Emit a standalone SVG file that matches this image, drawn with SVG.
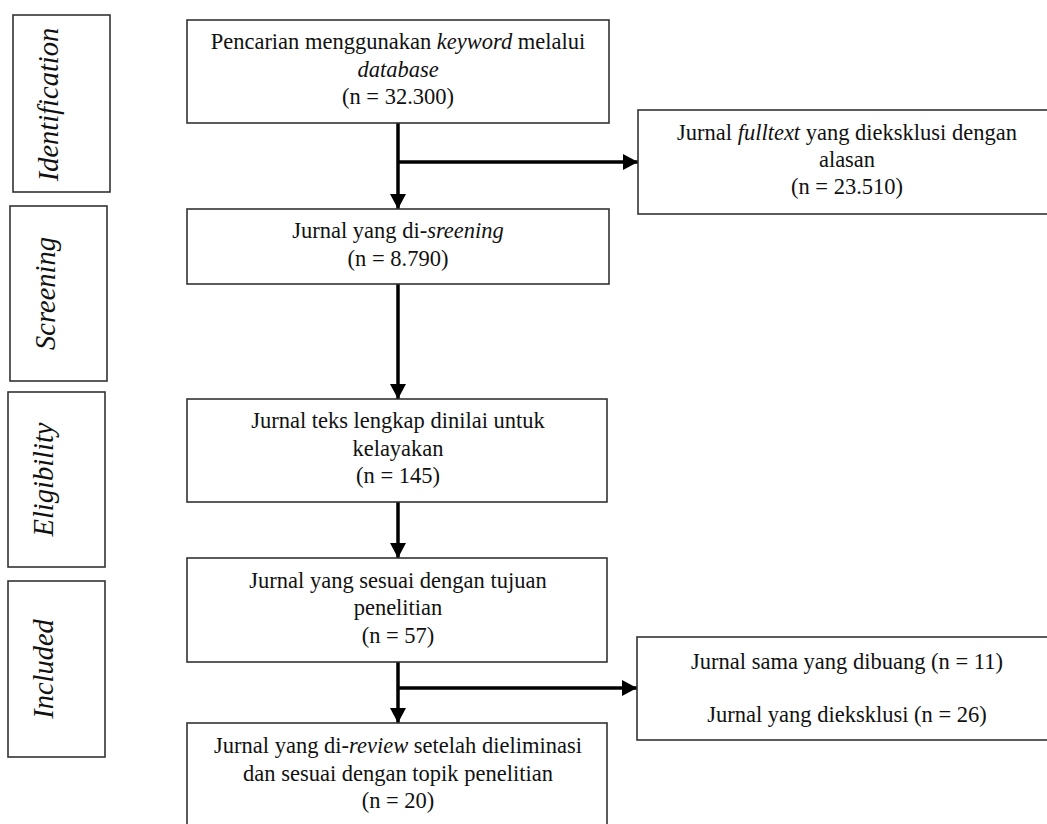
<svg xmlns="http://www.w3.org/2000/svg" width="1047" height="824" viewBox="0 0 1047 824">
<style>
.box{fill:#fff;stroke:#333;stroke-width:1.6}
.t{font-family:"Liberation Serif","Times New Roman",serif;font-size:22.5px;fill:#111;text-anchor:middle}
.i{font-style:italic}
.stage{font-family:"Liberation Serif","Times New Roman",serif;font-style:italic;font-size:28.5px;fill:#111;text-anchor:middle}
.c{stroke:#000;stroke-width:3.5;fill:none}
</style>
<defs>
<marker id="ah" markerUnits="userSpaceOnUse" markerWidth="16" markerHeight="16" refX="15" refY="8" orient="auto">
<path d="M0,0 L15,8 L0,16 Z" fill="#000"/>
</marker>
</defs>
<rect width="1047" height="824" fill="#fff"/>
<g id="stage-identification">
<rect class="box" x="13" y="15" width="97" height="177"/>
<text class="stage" x="61.5" y="104.5" transform="rotate(-90 61.5 104.5) translate(0 -4)">Identification</text>
</g>
<g id="stage-screening">
<rect class="box" x="10" y="206" width="97" height="175"/>
<text class="stage" x="58.5" y="293.5" transform="rotate(-90 58.5 293.5) translate(0 -4)">Screening</text>
</g>
<g id="stage-eligibility">
<rect class="box" x="8" y="392" width="97" height="175"/>
<text class="stage" x="56.5" y="479.5" transform="rotate(-90 56.5 479.5) translate(0 -4)">Eligibility</text>
</g>
<g id="stage-included">
<rect class="box" x="8" y="581" width="97" height="176"/>
<text class="stage" x="56.5" y="669" transform="rotate(-90 56.5 669) translate(0 -4)">Included</text>
</g>
<g id="connectors">
<line class="c" x1="398" y1="123" x2="398" y2="209" marker-end="url(#ah)"/>
<line class="c" x1="398" y1="162" x2="638" y2="162" marker-end="url(#ah)"/>
<line class="c" x1="398" y1="284" x2="398" y2="399" marker-end="url(#ah)"/>
<line class="c" x1="398" y1="502" x2="398" y2="558" marker-end="url(#ah)"/>
<line class="c" x1="398" y1="662" x2="398" y2="723" marker-end="url(#ah)"/>
<line class="c" x1="398" y1="688" x2="637" y2="688" marker-end="url(#ah)"/>
</g>
<g id="box-search">
<rect class="box" x="187" y="20" width="422" height="103"/>
<text class="t" x="398" y="49">Pencarian menggunakan <tspan class="i">keyword</tspan> melalui</text>
<text class="t i" x="398" y="77">database</text>
<text class="t" x="398" y="104">(n = 32.300)</text>
</g>
<g id="box-excluded-fulltext">
<rect class="box" x="638" y="110" width="420" height="104"/>
<text class="t" x="847" y="140">Jurnal <tspan class="i">fulltext</tspan> yang dieksklusi dengan</text>
<text class="t" x="847" y="167">alasan</text>
<text class="t" x="847" y="194">(n = 23.510)</text>
</g>
<g id="box-screening">
<rect class="box" x="187" y="209" width="422" height="75"/>
<text class="t" x="398" y="238">Jurnal yang di-<tspan class="i">sreening</tspan></text>
<text class="t" x="398" y="266">(n = 8.790)</text>
</g>
<g id="box-eligibility">
<rect class="box" x="187" y="399" width="420" height="103"/>
<text class="t" x="398" y="428">Jurnal teks lengkap dinilai untuk</text>
<text class="t" x="398" y="456">kelayakan</text>
<text class="t" x="398" y="483">(n = 145)</text>
</g>
<g id="box-relevant">
<rect class="box" x="187" y="558" width="420" height="104"/>
<text class="t" x="398" y="588">Jurnal yang sesuai dengan tujuan</text>
<text class="t" x="398" y="615">penelitian</text>
<text class="t" x="398" y="643">(n = 57)</text>
</g>
<g id="box-excluded-duplicates">
<rect class="box" x="637" y="637" width="420" height="103"/>
<text class="t" x="847" y="669">Jurnal sama yang dibuang (n = 11)</text>
<text class="t" x="847" y="722">Jurnal yang dieksklusi (n = 26)</text>
</g>
<g id="box-included">
<rect class="box" x="187" y="723" width="420" height="120"/>
<text class="t" x="398" y="753">Jurnal yang di-<tspan class="i">review</tspan> setelah dieliminasi</text>
<text class="t" x="398" y="781">dan sesuai dengan topik penelitian</text>
<text class="t" x="398" y="808">(n = 20)</text>
</g>
</svg>
